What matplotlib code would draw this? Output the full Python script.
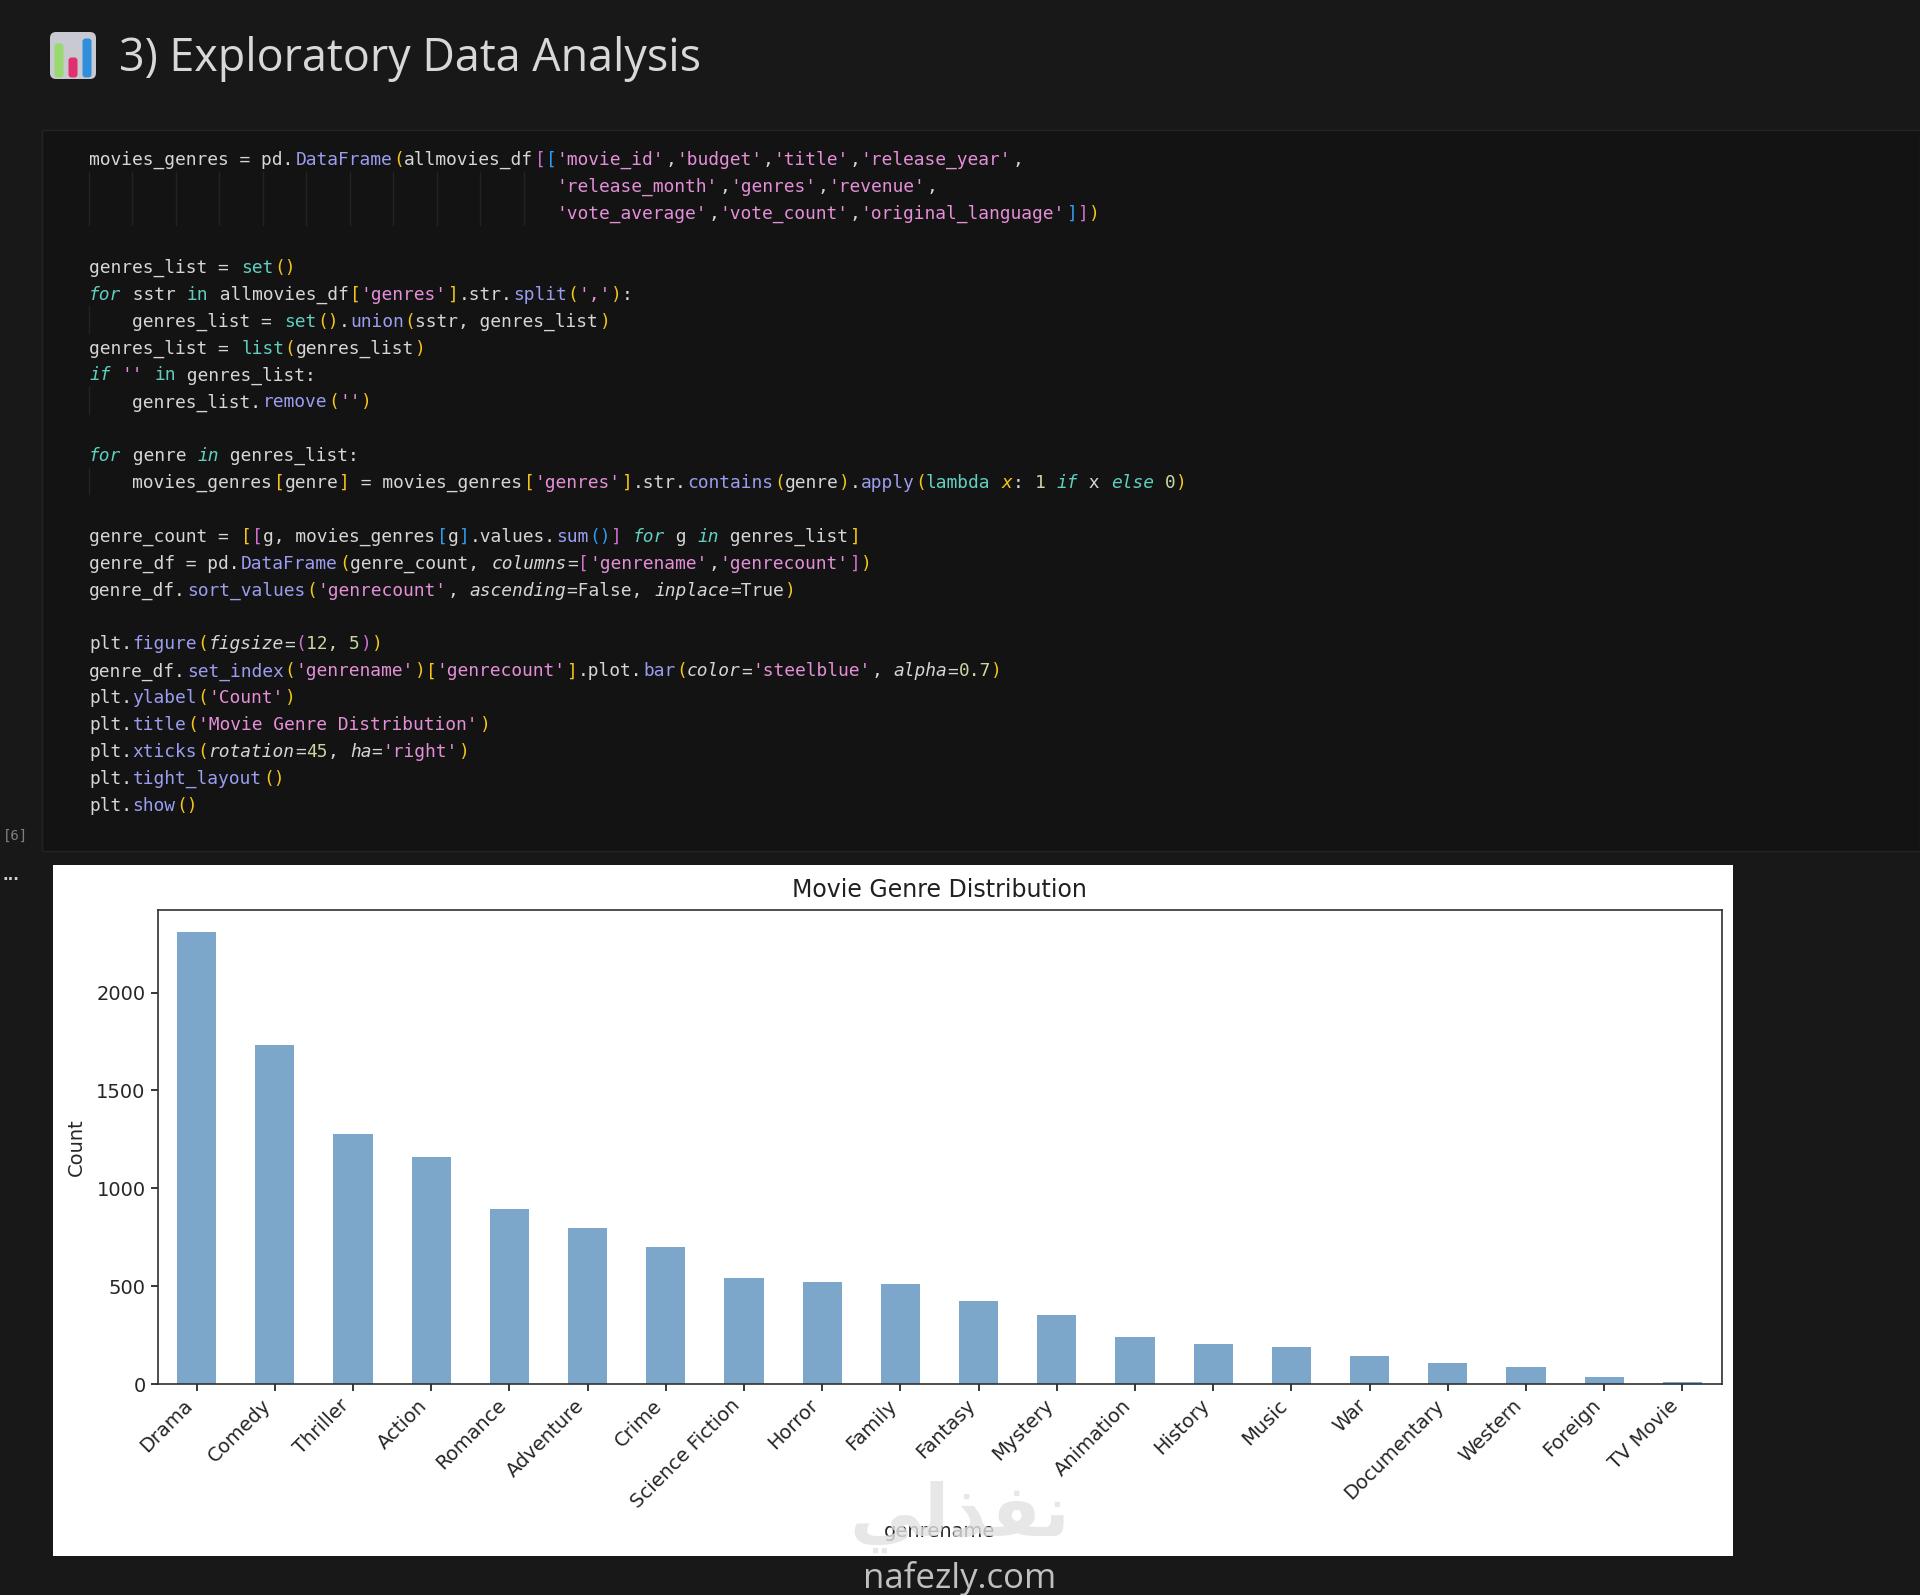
import matplotlib
matplotlib.use("Agg")
import matplotlib.pyplot as plt
from matplotlib.patches import FancyBboxPatch, Rectangle

# values
genre_names = ["Drama", "Comedy", "Thriller", "Action", "Romance", "Adventure",
               "Crime", "Science Fiction", "Horror", "Family", "Fantasy",
               "Mystery", "Animation", "History", "Music", "War",
               "Documentary", "Western", "Foreign", "TV Movie"]
genre_counts = [2308, 1732, 1277, 1162, 896, 795, 701, 543, 521, 513, 425,
                354, 238, 202, 189, 145, 109, 87, 37, 8]
y_ticks = [0, 500, 1000, 1500, 2000]

heading = "3) Exploratory Data Analysis"
watermark_ar = "\ufef2\ufedf\ufeac\ufed4\ufee7"
watermark_en = "nafezly.com"

W, H = 1920, 1595
BG = "#181818"
CELL = "#131313"
BORDER = "#232323"

# editor colours
colours = {"p": "#d6d6d6", "f": "#9b9df0", "b": "#5fd0c0", "s": "#e48fd8",
           "y": "#f5c518", "m": "#d070d0", "u": "#2f9cf0", "n": "#c8d8a0"}
# style key ending in i means italic
code_lines = [
    [("movies_genres = pd.", "p"), ("DataFrame", "f"), ("(", "y"), ("allmovies_df", "p"), ("[", "m"), ("[", "u"),
     ("'movie_id'", "s"), (",", "p"), ("'budget'", "s"), (",", "p"), ("'title'", "s"), (",", "p"),
     ("'release_year'", "s"), (",", "p")],
    [(" " * 43, "p"), ("'release_month'", "s"), (",", "p"), ("'genres'", "s"), (",", "p"), ("'revenue'", "s"), (",", "p")],
    [(" " * 43, "p"), ("'vote_average'", "s"), (",", "p"), ("'vote_count'", "s"), (",", "p"),
     ("'original_language'", "s"), ("]", "u"), ("]", "m"), (")", "y")],
    [],
    [("genres_list = ", "p"), ("set", "b"), ("()", "y")],
    [("for", "bi"), (" sstr ", "p"), ("in", "b"), (" allmovies_df", "p"), ("[", "y"), ("'genres'", "s"), ("]", "y"),
     (".str.", "p"), ("split", "f"), ("(", "y"), ("','", "s"), (")", "y"), (":", "p")],
    [("    genres_list = ", "p"), ("set", "b"), ("()", "y"), (".", "p"), ("union", "f"), ("(", "y"),
     ("sstr, genres_list", "p"), (")", "y")],
    [("genres_list = ", "p"), ("list", "b"), ("(", "y"), ("genres_list", "p"), (")", "y")],
    [("if", "bi"), (" ", "p"), ("''", "s"), (" ", "p"), ("in", "b"), (" genres_list:", "p")],
    [("    genres_list.", "p"), ("remove", "f"), ("(", "y"), ("''", "s"), (")", "y")],
    [],
    [("for", "bi"), (" genre ", "p"), ("in", "bi"), (" genres_list:", "p")],
    [("    movies_genres", "p"), ("[", "y"), ("genre", "p"), ("]", "y"), (" = movies_genres", "p"), ("[", "y"),
     ("'genres'", "s"), ("]", "y"), (".str.", "p"), ("contains", "f"), ("(", "y"), ("genre", "p"), (")", "y"),
     (".", "p"), ("apply", "f"), ("(", "y"), ("lambda", "b"), (" ", "p"), ("x", "yi"), (": ", "p"), ("1", "n"),
     (" ", "p"), ("if", "bi"), (" x ", "p"), ("else", "bi"), (" ", "p"), ("0", "n"), (")", "y")],
    [],
    [("genre_count = ", "p"), ("[", "y"), ("[", "m"), ("g, movies_genres", "p"), ("[", "u"), ("g", "p"), ("]", "u"),
     (".values.", "p"), ("sum", "f"), ("()", "u"), ("]", "m"), (" ", "p"), ("for", "bi"), (" g ", "p"), ("in", "bi"),
     (" genres_list", "p"), ("]", "y")],
    [("genre_df = pd.", "p"), ("DataFrame", "f"), ("(", "y"), ("genre_count, ", "p"), ("columns", "pi"), ("=", "p"),
     ("[", "m"), ("'genrename'", "s"), (",", "p"), ("'genrecount'", "s"), ("]", "m"), (")", "y")],
    [("genre_df.", "p"), ("sort_values", "f"), ("(", "y"), ("'genrecount'", "s"), (", ", "p"), ("ascending", "pi"),
     ("=False, ", "p"), ("inplace", "pi"), ("=True", "p"), (")", "y")],
    [],
    [("plt.", "p"), ("figure", "f"), ("(", "y"), ("figsize", "pi"), ("=", "p"), ("(", "m"), ("12, 5", "n"), (")", "m"), (")", "y")],
    [("genre_df.", "p"), ("set_index", "f"), ("(", "y"), ("'genrename'", "s"), (")", "y"), ("[", "y"), ("'genrecount'", "s"),
     ("]", "y"), (".plot.", "p"), ("bar", "f"), ("(", "y"), ("color", "pi"), ("=", "p"), ("'steelblue'", "s"), (", ", "p"),
     ("alpha", "pi"), ("=", "p"), ("0.7", "n"), (")", "y")],
    [("plt.", "p"), ("ylabel", "f"), ("(", "y"), ("'Count'", "s"), (")", "y")],
    [("plt.", "p"), ("title", "f"), ("(", "y"), ("'Movie Genre Distribution'", "s"), (")", "y")],
    [("plt.", "p"), ("xticks", "f"), ("(", "y"), ("rotation", "pi"), ("=", "p"), ("45", "n"), (", ", "p"), ("ha", "pi"),
     ("=", "p"), ("'right'", "s"), (")", "y")],
    [("plt.", "p"), ("tight_layout", "f"), ("()", "y")],
    [("plt.", "p"), ("show", "f"), ("()", "y")],
]


def AxesRect(left, top, right, bottom):
    # pixel box (y down) to figure fractions
    return [left / W, 1 - bottom / H, (right - left) / W, (bottom - top) / H]


def DrawBackground(back):
    back.add_patch(Rectangle((42, 130), W - 42, 721, fc=CELL, ec=BORDER, lw=1))
    # white output panel
    back.add_patch(Rectangle((53, 864.5), 1680, 691.5, fc="white", ec="none"))
    # emoji style icon next to the heading
    back.add_patch(FancyBboxPatch((53, 35), 40, 41, boxstyle="round,pad=3,rounding_size=6", fc="#c9c9d2", ec="none"))
    back.add_patch(FancyBboxPatch((55, 44), 8, 33, boxstyle="round,pad=0.5,rounding_size=3", fc="#9ad870", ec="none"))
    back.add_patch(FancyBboxPatch((69, 58), 8, 19, boxstyle="round,pad=0.5,rounding_size=3", fc="#e0306f", ec="none"))
    back.add_patch(FancyBboxPatch((83, 39), 8, 38, boxstyle="round,pad=0.5,rounding_size=3", fc="#2f8fdc", ec="none"))
    back.text(119, 59, heading, color="#d8d8d8", fontsize=32.3, family="Open Sans", va="center", ha="left")


def DrawCode(back):
    x0, y0, charW, lineH = 89.0, 158.2, 10.87, 26.9
    # indent guides
    for col in range(0, 44, 4):
        back.plot([x0 + col * charW] * 2, [y0 + 0.5 * lineH, y0 + 2.5 * lineH], color="#232323", lw=1)
    for line in (6, 9, 12):
        back.plot([x0] * 2, [y0 + (line - 0.5) * lineH, y0 + (line + 0.5) * lineH], color="#232323", lw=1)
    for i, tokens in enumerate(code_lines):
        col = 0
        for text, style in tokens:
            italic = style.endswith("i")
            back.text(x0 + col * charW, y0 + i * lineH, text, color=colours[style[0]],
                      family="DejaVu Sans Mono", fontsize=12.9,
                      style="italic" if italic else "normal", va="center_baseline", ha="left")
            col += len(text)
    back.text(15, 836, "[6]", color="#808080", family="DejaVu Sans Mono", fontsize=10, ha="center", va="center")
    back.text(11, 875, "...", color="#d0d0d0", family="DejaVu Sans", fontsize=11, weight="bold", ha="center", va="center")


def DrawChart(ax):
    ax.bar(range(len(genre_names)), genre_counts, width=0.5, color="steelblue", alpha=0.7)
    ax.set_xlim(-0.5, len(genre_names) - 0.5)
    ax.set_xticks(range(len(genre_names)))
    ax.set_xticklabels(genre_names, rotation=45, ha="right", fontsize=14, color="#262626")
    ax.set_yticks(y_ticks)
    ax.tick_params(axis="both", labelsize=14, length=5, width=1.1, labelcolor="#262626")
    for spine in ax.spines.values():
        spine.set_linewidth(1.2)
        spine.set_color("#303030")
    ax.set_ylabel("Count", fontsize=14, color="#262626")
    ax.set_xlabel("genrename", fontsize=14, color="#262626")
    ax.yaxis.set_label_coords(-0.0456, 0.5)
    ax.xaxis.set_label_coords(0.5, -0.29)
    ax.set_title("Movie Genre Distribution", fontsize=17, color="#202020", pad=9)


def DrawWatermark(front):
    front.text(960, 1517, watermark_ar, color="#e2e2e2", alpha=0.8, family="DejaVu Sans", weight="bold",
               fontsize=52, ha="center", va="center")
    front.text(960, 1579, watermark_en, color="#c0c0c0", family="Open Sans", weight="medium",
               fontsize=25, ha="center", va="center")


def run():
    fig = plt.figure(figsize=(W / 100, H / 100), dpi=100, facecolor=BG)
    back = fig.add_axes([0, 0, 1, 1], zorder=0)
    ax = fig.add_axes(AxesRect(157.5, 909.7, 1721.5, 1384), zorder=1)
    front = fig.add_axes([0, 0, 1, 1], zorder=2)
    for pixelAx in (back, front):
        pixelAx.set_xlim(0, W)
        pixelAx.set_ylim(H, 0)
        pixelAx.axis("off")
    DrawBackground(back)
    DrawCode(back)
    DrawChart(ax)
    DrawWatermark(front)
    fig.savefig("out.png", dpi=100, facecolor=BG)


if __name__ == "__main__":
    run()
